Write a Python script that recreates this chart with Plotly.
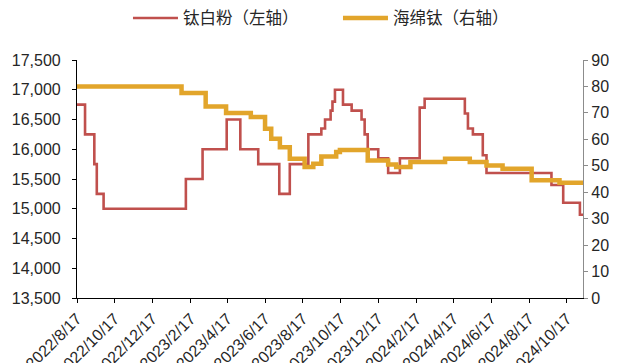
import plotly.graph_objects as go

# 钛白粉（左轴）: step change dates and values
tio2_dates = [
    "2022-08-17", "2022-08-30", "2022-09-14", "2022-09-18", "2022-09-29",
    "2023-02-09", "2023-03-08", "2023-04-16", "2023-05-08", "2023-06-06",
    "2023-07-10", "2023-07-27", "2023-08-26", "2023-09-16", "2023-09-22",
    "2023-10-01", "2023-10-04", "2023-10-08", "2023-10-21", "2023-11-04",
    "2023-11-20", "2023-11-25", "2023-11-30", "2023-12-17", "2024-01-02",
    "2024-01-21", "2024-02-22", "2024-03-01", "2024-05-05", "2024-05-10",
    "2024-05-18", "2024-06-03", "2024-06-09", "2024-09-22", "2024-10-11",
    "2024-11-07", "2024-11-12",
]
tio2_values = [
    16750, 16250, 15750, 15250, 15000,
    15500, 16000, 16500, 16000, 15750,
    15250, 15750, 16250, 16350, 16500,
    16650, 16800, 17000, 16750, 16650,
    16500, 16250, 16000, 15850, 15600,
    15850, 16700, 16850, 16600, 16350,
    16250, 15900, 15600, 15400, 15100,
    14900, 14900,
]

# 海绵钛（右轴）
sponge_dates = [
    "2022-08-17", "2023-02-02", "2023-03-13", "2023-04-15", "2023-05-25",
    "2023-06-17", "2023-06-27", "2023-07-11", "2023-07-27", "2023-08-20",
    "2023-09-03", "2023-09-16", "2023-10-10", "2023-10-16", "2023-11-30",
    "2024-01-02", "2024-01-15", "2024-02-07", "2024-04-03", "2024-05-13",
    "2024-06-09", "2024-07-05", "2024-08-21", "2024-10-05", "2024-11-12",
]
sponge_values = [
    80, 77.5, 72.4, 70, 68.4,
    64, 60.2, 57, 52.7, 49.5,
    50.8, 53.5, 55.2, 56, 52,
    50.5, 49.5, 51.4, 52.7, 51.4,
    50.1, 48.9, 44.5, 43.6, 43.6,
]

x_tickvals = [
    "2022-08-17", "2022-10-17", "2022-12-17", "2023-02-17", "2023-04-17",
    "2023-06-17", "2023-08-17", "2023-10-17", "2023-12-17", "2024-02-17",
    "2024-04-17", "2024-06-17", "2024-08-17", "2024-10-17",
]
x_ticktext = [
    "2022/8/17", "2022/10/17", "2022/12/17", "2023/2/17", "2023/4/17",
    "2023/6/17", "2023/8/17", "2023/10/17", "2023/12/17", "2024/2/17",
    "2024/4/17", "2024/6/17", "2024/8/17", "2024/10/17",
]

RED = "#C0504D"
GOLD = "#E2A52B"
TICKFONT = dict(family="Liberation Sans, Arial, sans-serif", size=16, color="#262626")

fig = go.Figure()
fig.add_trace(go.Scatter(
    x=tio2_dates, y=tio2_values, name="钛白粉（左轴）", mode="lines",
    line=dict(color=RED, width=2.6, shape="hv"), yaxis="y",
))
fig.add_trace(go.Scatter(
    x=sponge_dates, y=sponge_values, name="海绵钛（右轴）", mode="lines",
    line=dict(color=GOLD, width=4.5, shape="hv"), yaxis="y2",
))

# the page body has an 8px margin, so the figure is sized to fill the rest
fig.update_layout(
    width=609, height=355,
    margin=dict(l=69, r=34, t=52, b=65, autoexpand=False),
    paper_bgcolor="white", plot_bgcolor="white",
    showlegend=True,
    legend=dict(
        orientation="h", xref="container", yref="container",
        x=0.197, xanchor="left", y=0.971, yanchor="middle",
        font=dict(family="Noto Sans CJK SC", size=16.5, color="#262626"),
        entrywidth=150, entrywidthmode="pixels", itemwidth=45,
        bgcolor="rgba(0,0,0,0)",
    ),
    xaxis=dict(
        type="date", range=["2022-08-17", "2024-11-12"],
        tickmode="array", tickvals=x_tickvals, ticktext=x_ticktext,
        tickangle=-45, tickfont=TICKFONT,
        showline=True, linecolor="black", linewidth=1.2,
        ticks="outside", ticklen=4, tickcolor="black",
        showgrid=False, zeroline=False, automargin=False,
    ),
    yaxis=dict(
        range=[13500, 17500], dtick=500, tick0=13500, tickformat=",",
        tickfont=TICKFONT,
        showline=True, linecolor="black", linewidth=1.2,
        ticks="outside", ticklen=4, tickcolor="black",
        showgrid=False, zeroline=False, automargin=False,
        ticklabelstandoff=8,
    ),
    yaxis2=dict(
        range=[0, 90], dtick=10, tick0=0, overlaying="y", side="right",
        tickfont=TICKFONT,
        showline=True, linecolor="#8c8c8c", linewidth=1.2,
        ticks="outside", ticklen=4, tickcolor="#8c8c8c",
        showgrid=False, zeroline=False, automargin=False,
    ),
)

fig.write_html("out.html")
